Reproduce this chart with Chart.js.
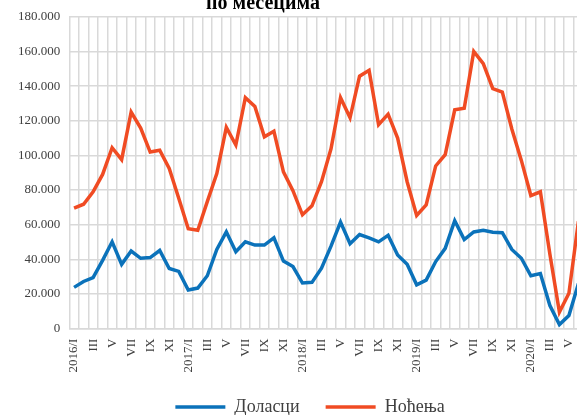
<!DOCTYPE html>
<html>
<head>
<meta charset="utf-8">
<title>Доласци и ноћења по месецима</title>
<script src="https://cdn.jsdelivr.net/npm/chart.js@4.4.1/dist/chart.umd.min.js"></script>
<style>
  html, body { margin: 0; padding: 0; overflow: hidden; background: #fff; }
  #wrap { position: absolute; left: 0; top: 0; width: 620px; height: 426px; }
</style>
</head>
<body>
<div id="wrap"><canvas id="tourismChart" width="620" height="426"></canvas></div>
<script>
const titleText = 'по месецима';
const years = ['2016', '2017', '2018', '2019', '2020'];
const romanMonths = ['I', 'II', 'III', 'IV', 'V', 'VI', 'VII', 'VIII', 'IX', 'X', 'XI', 'XII'];

// 2016/I .. 2020/VI
const dolasci = [
  23800, 27200, 29500, 39400, 50100, 37100, 44800, 40600, 41000, 45100, 34700, 33000,
  22300, 23400, 30500, 45700, 55800, 44400, 50100, 48200, 48200, 52400, 39000, 35800,
  26300, 26700, 34900, 47600, 61500, 49000, 54300, 52400, 50100, 53900, 42500, 37100,
  25300, 28000, 38700, 46300, 62300, 51400, 55800, 56800, 55600, 55400, 45700, 40600,
  30500, 31800, 13300, 2300, 7600, 26000
];
const nocenja = [
  69500, 71800, 79000, 89000, 104400, 97500, 125000, 115800, 101900, 103000, 92400, 75200,
  57700, 56800, 73300, 89500, 116200, 106000, 133300, 128200, 110700, 113900, 90500, 79600,
  65700, 70900, 84800, 103800, 133300, 121700, 145700, 149100, 117700, 123800, 110000, 84800,
  65300, 71400, 93900, 100400, 126300, 127200, 160000, 153000, 138500, 136600, 115200, 97100,
  76800, 79000, 42900, 9500, 20400, 62000
];

const labels = [];
years.forEach(y => romanMonths.forEach((m, i) => labels.push(i === 0 ? y + '/' + m : m)));
labels.length = dolasci.length;

const serif = '"Liberation Serif", "Times New Roman", serif';
const gridColor = '#d9d9d9';
const textColor = '#404040';

function fmt(v) {
  return String(v).replace(/\B(?=(\d{3})+(?!\d))/g, '.');
}

// title is cut off at the top of the picture, only the second line shows
const cutTitle = {
  id: 'cutTitle',
  afterDraw(chart) {
    const c = chart.ctx;
    c.save();
    c.font = 'bold 20px ' + serif;
    c.fillStyle = '#000';
    c.textAlign = 'center';
    c.textBaseline = 'alphabetic';
    c.fillText(titleText, 263, 9);
    c.restore();
  }
};

const ctx = document.getElementById('tourismChart').getContext('2d');
const tourismChart = new Chart(ctx, {
  type: 'line',
  data: {
    labels: labels,
    datasets: [{
      label: 'Доласци',
      data: dolasci,
      borderColor: '#0B72BA',
      backgroundColor: '#0B72BA',
      borderWidth: 3.5,
      pointRadius: 0,
      tension: 0
    }, {
      label: 'Ноћења',
      data: nocenja,
      borderColor: '#F04B23',
      backgroundColor: '#F04B23',
      borderWidth: 3.5,
      pointRadius: 0,
      tension: 0
    }]
  },
  options: {
    responsive: false,
    animation: false,
    devicePixelRatio: 1,
    layout: {
      padding: { top: 13, left: 0, right: 0, bottom: 0 }
    },
    plugins: {
      tooltip: { enabled: false },
      legend: {
        position: 'bottom',
        labels: {
          usePointStyle: true,
          pointStyle: 'line',
          pointStyleWidth: 50,
          padding: 26,
          color: textColor,
          font: { family: serif, size: 18 }
        }
      }
    },
    scales: {
      x: {
        offset: true,
        grid: { offset: true, color: gridColor, lineWidth: 1.5, drawTicks: false },
        border: { color: gridColor, width: 1.5 },
        ticks: {
          autoSkip: false,
          minRotation: 90,
          maxRotation: 90,
          padding: 10,
          color: textColor,
          font: { family: serif, size: 13 },
          callback: function (v, i) {
            return i % 2 === 0 ? this.getLabelForValue(v) : '';
          }
        },
        afterFit: s => { s.height = 43.4; }
      },
      y: {
        min: 0,
        max: 180000,
        grid: { color: gridColor, lineWidth: 1.5, drawTicks: false },
        border: { display: false },
        ticks: {
          stepSize: 20000,
          padding: 9,
          color: textColor,
          font: { family: serif, size: 13 },
          callback: v => fmt(v)
        },
        afterFit: s => { s.width = 69.3; }
      },
      // empty right-hand box: keeps the plot edge past the cropped border
      // while the legend stays centred on the full canvas
      yRight: {
        position: 'right',
        grid: { display: false },
        border: { display: false },
        ticks: { display: false },
        afterFit: s => { s.width = 36.8; }
      }
    }
  },
  plugins: [cutTitle]
});
</script>
</body>
</html>
